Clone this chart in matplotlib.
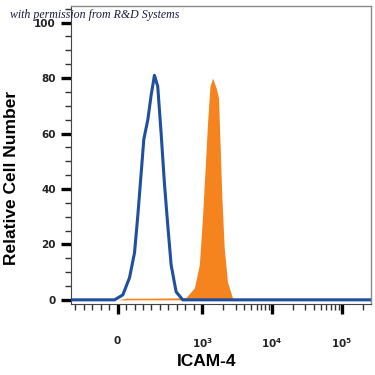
import numpy as np
import matplotlib
matplotlib.use("Agg")
import matplotlib.pyplot as plt
from matplotlib.ticker import FixedLocator

# isotype control (blue outline)
ctrl_x = [-550, -35, 62, 141, 200, 239, 279, 310, 357, 397, 435, 474, 514, 553, 592, 632, 691, 769, 1000, 262144]
ctrl_y = [0, 0, 1.8, 8, 17, 30.5, 46, 58, 65, 74, 81, 77, 60, 42, 27, 12.6, 2.9, 0, 0, 0]

# ICAM-4 stained (orange fill)
icam_x = [-550, 0, 100, 400, 700, 809, 906, 965, 1010, 1104, 1190, 1288, 1403, 1600, 1710, 1806, 1910, 2062, 2297, 2707, 3162, 262144]
icam_y = [0, 0, 0.6, 0.6, 0.7, 0.9, 4.3, 12.6, 30.5, 48.5, 64, 77, 80, 76, 72.7, 54.7, 36.7, 18.7, 6.5, 0.7, 0, 0]

x_ticks = [0, 1e3, 1e4, 1e5]
x_labels = ["0", r"$\mathbf{10^3}$", r"$\mathbf{10^4}$", r"$\mathbf{10^5}$"]
y_ticks = [0, 20, 40, 60, 80, 100]

plt.rcParams['font.family'] = ['Liberation Sans', 'DejaVu Sans']
plt.rcParams['mathtext.fontset'] = 'dejavusans'

fig = plt.figure(figsize=(3.75, 3.75), dpi=100)
ax = fig.add_axes([71/375, 1 - 304/375, 300/375, 298/375])

ax.set_xscale('symlog', linthresh=1000, linscale=1.093)
ax.fill_between(icam_x, icam_y, 0, color='#f5841f', lw=0, zorder=2)
ax.plot(ctrl_x, ctrl_y, color='#1f4f9e', lw=2.2, zorder=3, solid_joinstyle='round')

ax.set_xlim(-550, 262144)
ax.set_ylim(-1.5, 106)

minors = list(range(-500, 1000, 100))
for dec in [1e3, 1e4, 1e5]:
    minors += [dec * k for k in range(2, 10)]
ax.xaxis.set_major_locator(FixedLocator(x_ticks))
ax.xaxis.set_minor_locator(FixedLocator([m for m in minors if m not in x_ticks]))
ax.set_xticklabels(x_labels)
ax.yaxis.set_major_locator(FixedLocator(y_ticks))
ax.yaxis.set_minor_locator(FixedLocator(np.arange(5, 106, 5)))

ax.tick_params(which='major', length=7, width=2.4, color='black', direction='out')
ax.tick_params(which='minor', length=4, width=1, color='#333333', direction='out')
for lab in ax.get_xticklabels() + ax.get_yticklabels():
    lab.set_fontweight('bold')
    lab.set_family('DejaVu Sans')
    lab.set_fontsize(7.5)
    lab.set_color('#222222')
ax.tick_params(axis='x', pad=16)
ax.tick_params(axis='y', pad=4)

for s in ['top', 'right']:
    ax.spines[s].set_color('#8a8a8a')
    ax.spines[s].set_linewidth(1)
ax.spines['left'].set_color('#444444')
ax.spines['bottom'].set_color('#444444')

ax.set_xlabel("ICAM-4", fontsize=12.5, fontweight='bold', va='center')
ax.xaxis.set_label_coords((207 - 71) / 300, (304 - 362) / 298)
ax.set_ylabel("Relative Cell Number", fontsize=12.5, fontweight='bold', va='center')
ax.yaxis.set_label_coords((12 - 71) / 300, (304 - 178) / 298)

fig.text(10/375, 1 - 15/375, "with permission from R&D Systems", fontsize=8.6,
         family=['Liberation Serif', 'DejaVu Serif'], style='italic', color='#1a1a40',
         va='center')

fig.savefig("out.png", dpi=100, facecolor='white')
